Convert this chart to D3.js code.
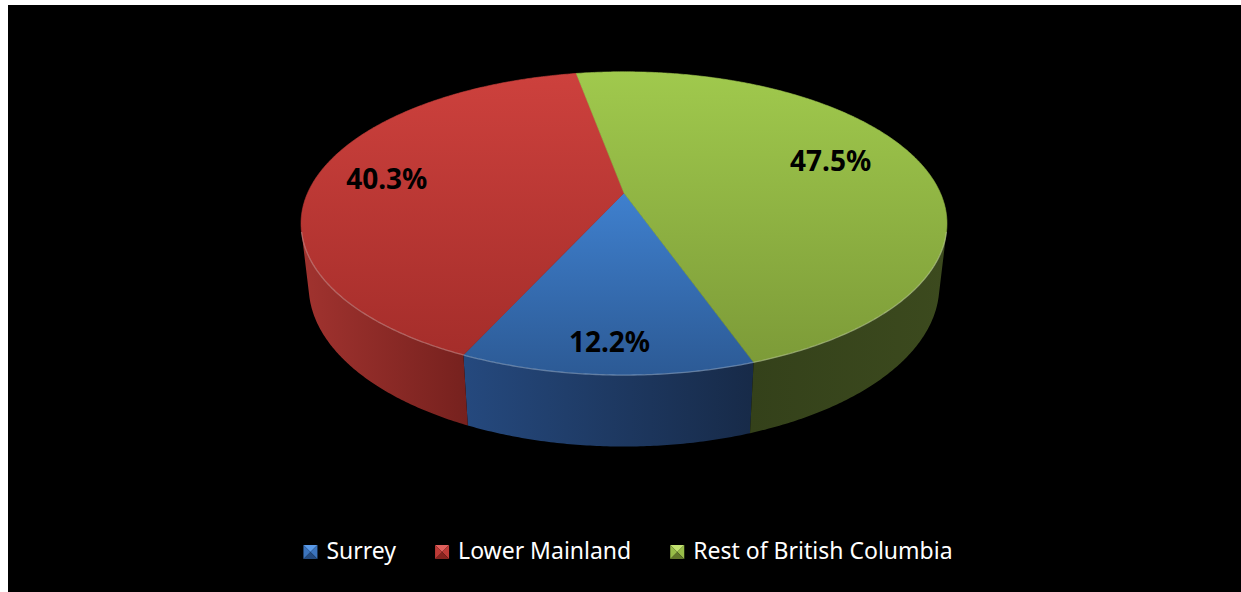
<!DOCTYPE html>
<html>
<head>
<meta charset="utf-8">
<title>Pie</title>
<style>
  body { margin: 0; background: #fff; }
  svg { display: block; }
</style>
</head>
<body>
<script src="https://d3js.org/d3.v7.min.js"></script>
<script>

// data
var categories = ["Surrey", "Lower Mainland", "Rest of British Columbia"];
var shares = [12.2, 40.3, 47.5];
var valueLabels = ["12.2%", "40.3%", "47.5%"];

var W = 1241, H = 592;

var svg = d3.select("body").append("svg")
    .attr("width", W)
    .attr("height", H);

// black chart area
svg.append("rect")
    .attr("x", 8).attr("y", 5)
    .attr("width", W - 8).attr("height", H - 5)
    .attr("fill", "#000");

// 3d projection of the disc (perspective)
var cx = 624, cy = 193;
var kR = 316.4;      // radius in px
var K = 1400;        // camera distance in px
var sinP = 0.46, cosP = Math.sqrt(1 - 0.46 * 0.46);
var depth = 71;      // thickness

function proj(a, r, y) {
  var X = kR * r * Math.sin(a),
      Z = -kR * r * Math.cos(a),
      sx = X,
      sy = y * cosP - Z * sinP,
      q = y * sinP + Z * cosP,
      f = K / (K - q);
  return [cx + sx * f, cy - sy * f];
}

var pie = d3.pie().sort(null)
    .startAngle(160.6 * Math.PI / 180)
    .endAngle(160.6 * Math.PI / 180 + 2 * Math.PI);
var arcs = pie(shares);

var line = d3.line();

function rim(a0, a1, r, y) {
  var n = Math.max(2, Math.ceil(Math.abs(a1 - a0) / (Math.PI / 360)));
  return d3.range(n + 1).map(function(i) {
    return proj(a0 + (a1 - a0) * i / n, r, y);
  });
}

var topColors = [
  [["0", "#4a90e6"], ["0.4", "#3f80ce"], ["1", "#2c5a95"]],
  [["0", "#cd413d"], ["1", "#a22c29"]],
  [["0", "#a0c94d"], ["1", "#7b9937"]]
];
var sideColors = [
  ["#25497e", "#172a48"],
  ["#a1332f", "#76211e"],
  ["#34411a", "#3c4a1e"]
];
var legendColors = [
  ["#5a9ae8", "#3b74bd", "#244b80"],
  ["#e0605c", "#be3a36", "#86241f"],
  ["#c2e270", "#98bd48", "#62782a"]
];

var defs = svg.append("defs");
topColors.forEach(function(stops, i) {
  var g = defs.append("linearGradient")
      .attr("id", "top" + i)
      .attr("gradientUnits", "userSpaceOnUse")
      .attr("x1", 0).attr("y1", 72).attr("x2", 0).attr("y2", 375);
  stops.forEach(function(s) {
    g.append("stop").attr("offset", s[0]).attr("stop-color", s[1]);
  });
});
sideColors.forEach(function(c, i) {
  var g = defs.append("linearGradient")
      .attr("id", "side" + i)
      .attr("x1", 0).attr("y1", 0).attr("x2", 1).attr("y2", 0);
  g.append("stop").attr("offset", 0).attr("stop-color", c[0]);
  g.append("stop").attr("offset", 1).attr("stop-color", c[1]);
});

// visible part of the outer wall
var visLimit = Math.acos(-(kR / K) / cosP);
var vis0 = visLimit, vis1 = 2 * Math.PI - visLimit;

var walls = svg.append("g");
var rims = [];
arcs.forEach(function(d, i) {
  [-2 * Math.PI, 0, 2 * Math.PI].forEach(function(shift) {
    var a0 = Math.max(d.startAngle, vis0 + shift),
        a1 = Math.min(d.endAngle, vis1 + shift);
    if (a1 <= a0) return;
    var pts = rim(a0, a1, 1, 0).concat(rim(a1, a0, 1, -depth));
    walls.append("path")
        .attr("d", line(pts) + "Z")
        .attr("fill", "url(#side" + i + ")");
    rims.push(rim(a0, a1, 1, 0));
  });
});

// top faces
var tops = svg.append("g");
arcs.forEach(function(d, i) {
  var pts = [proj(0, 0, 0)].concat(rim(d.startAngle, d.endAngle, 1, 0));
  tops.append("path")
      .attr("d", line(pts) + "Z")
      .attr("fill", "url(#top" + i + ")")
      .attr("stroke", "url(#top" + i + ")")
      .attr("stroke-width", 0.6);
});

// light bevel along the front edge
rims.forEach(function(pts) {
  svg.append("path")
      .attr("d", line(pts))
      .attr("fill", "none")
      .attr("stroke", "rgba(255,255,255,0.28)")
      .attr("stroke-width", 1.3);
});

// value labels
var labelRadius = [0.85, 0.77, 0.70];
svg.append("g").selectAll("text")
  .data(arcs)
  .join("text")
    .attr("transform", function(d, i) {
      var p = proj((d.startAngle + d.endAngle) / 2, labelRadius[i], 0);
      return "translate(" + p[0] + "," + (p[1] - (i === 2 ? 7 : 0)) + ")";
    })
    .attr("text-anchor", "middle")
    .attr("dy", "0.35em")
    .attr("font-family", "'Noto Sans', sans-serif")
    .attr("font-weight", "bold")
    .attr("font-size", 28)
    .attr("fill", "#000")
    .text(function(d, i) { return valueLabels[i]; });

// legend
var legend = svg.append("g");
var box = 14, boxGap = 9, itemGap = 39, legendY = 551;
var items = legend.selectAll("g")
  .data(categories)
  .join("g");
items.append("text")
    .attr("font-family", "'Noto Sans', sans-serif")
    .attr("font-size", 23)
    .attr("fill", "#fff")
    .attr("dy", "0.35em")
    .text(function(d) { return d; });

var widths = [];
items.select("text").each(function() { widths.push(this.getComputedTextLength()); });
var total = d3.sum(widths) + categories.length * (box + boxGap) + (categories.length - 1) * itemGap;
var x = 628 - total / 2;
items.each(function(d, i) {
  var g = d3.select(this);
  var c = legendColors[i];
  var x0 = x, y0 = legendY - box / 2 + 1, m = box / 2;
  function tri(pts, col) {
    g.append("path").attr("d", line(pts) + "Z").attr("fill", col);
  }
  var tl = [x0, y0], tr = [x0 + box, y0], br = [x0 + box, y0 + box], bl = [x0, y0 + box], mid = [x0 + m, y0 + m];
  tri([tl, tr, mid], c[0]);
  tri([tr, br, mid], c[1]);
  tri([br, bl, mid], c[2]);
  tri([bl, tl, mid], c[1]);
  g.select("text").attr("x", x0 + box + boxGap).attr("y", legendY);
  x += box + boxGap + widths[i] + itemGap;
});

</script>
</body>
</html>
